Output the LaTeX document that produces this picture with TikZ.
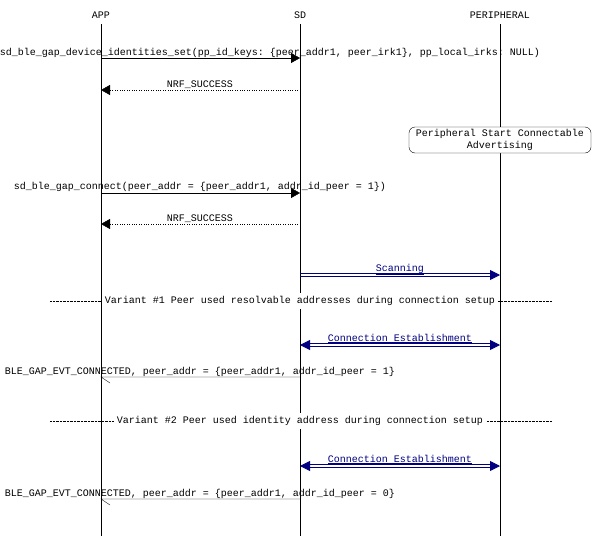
\documentclass[tikz,border=0pt]{standalone}
\usepackage{fontspec}
\setmonofont{Liberation Mono}
\usetikzlibrary{arrows.meta}
\definecolor{navyc}{RGB}{0,0,128}
\begin{document}
\begin{tikzpicture}[x=1pt,y=-1pt,font=\ttfamily\fontsize{10}{12}\selectfont,
  lbl/.style={inner sep=0pt,anchor=base},
  msg/.style={-{Triangle[length=9pt,width=10pt]}},
  ret/.style={dotted,-{Triangle[length=9pt,width=10pt]}},
  dl/.style={navyc,line width=0.8pt},
  dtip/.style={navyc,line width=0.8pt,-{Triangle[length=10pt,width=10pt]}},
  divl/.style={densely dotted}]
\useasboundingbox (0,0) rectangle (600,536);
\fill[white] (0,0) rectangle (600,536);
\node[lbl] (happ) at (101,18) {APP};
\node[lbl] (hsd) at (300,18) {SD};
\node[lbl] (hper) at (500,18) {PERIPHERAL};
\coordinate (eapp) at (101,536);
\coordinate (esd) at (300,536);
\coordinate (eper) at (500,536);
\draw (101,24) -- (eapp);
\draw (300,24) -- (esd);
\draw (500,24) -- (eper);
% 1
\coordinate (a1) at (101,58); \coordinate (s1) at (300,58);
\draw[msg] (a1) -- (s1);
\node[lbl] (l1) at (270,55) {sd\_ble\_gap\_device\_identities\_set(pp\_id\_keys: \{peer\_addr1, peer\_irk1\}, pp\_local\_irks: NULL)};
\coordinate (a2) at (101,90); \coordinate (s2) at (300,90);
\draw[ret] (s2) -- (a2);
\node[lbl] (l2) at (200,87) {NRF\_SUCCESS};
\node[draw,rounded corners=6pt,align=center,inner sep=1pt,minimum width=182pt,minimum height=26pt,fill=white] (box) at (500,140) {Peripheral Start Connectable\\Advertising};
\coordinate (a3) at (101,193); \coordinate (s3) at (300,193);
\draw[msg] (a3) -- (s3);
\node[lbl] (l3) at (200,189) {sd\_ble\_gap\_connect(peer\_addr = \{peer\_addr1, addr\_id\_peer = 1\})};
\coordinate (a4) at (101,224); \coordinate (s4) at (300,224);
\draw[ret] (s4) -- (a4);
\node[lbl] (l4) at (200,221) {NRF\_SUCCESS};
\coordinate (s5) at (300,275); \coordinate (p5) at (500,275);
\draw[dl] ([yshift=-1.5pt]s5) -- ([yshift=-1.5pt,xshift=-8pt]p5);
\draw[dl] ([yshift=1.5pt]s5) -- ([yshift=1.5pt,xshift=-8pt]p5);
\draw[dtip] ([xshift=-9pt]p5) -- (p5);
\node[lbl,navyc] (l5) at (400,271) {\underline{Scanning}};
% divider 1
\coordinate (d1a) at (50,301); \coordinate (d1b) at (552,301);
\draw[divl] (d1a) -- (d1b);
\node[fill=white,inner sep=3pt] (t1) at (300,301) {Variant \#1 Peer used resolvable addresses during connection setup};
\coordinate (s6) at (300,345); \coordinate (p6) at (500,345);
\draw[dl] ([yshift=-1.5pt,xshift=8pt]s6) -- ([yshift=-1.5pt,xshift=-8pt]p6);
\draw[dl] ([yshift=1.5pt,xshift=8pt]s6) -- ([yshift=1.5pt,xshift=-8pt]p6);
\draw[dtip] ([xshift=-9pt]p6) -- (p6);
\draw[dtip] ([xshift=9pt]s6) -- (s6);
\node[lbl,navyc] (l6) at (400,341) {\underline{Connection Establishment}};
\coordinate (a7) at (101,377); \coordinate (s7) at (300,377);
\draw (s7) -- (a7) -- ++(9,6);
\node[lbl] (l7) at (200,374) {BLE\_GAP\_EVT\_CONNECTED, peer\_addr = \{peer\_addr1, addr\_id\_peer = 1\}};
\coordinate (d2a) at (50,421); \coordinate (d2b) at (552,421);
\draw[divl] (d2a) -- (d2b);
\node[fill=white,inner sep=3pt] (t2) at (300,421) {Variant \#2 Peer used identity address during connection setup};
\coordinate (s8) at (300,466); \coordinate (p8) at (500,466);
\draw[dl] ([yshift=-1.5pt,xshift=8pt]s8) -- ([yshift=-1.5pt,xshift=-8pt]p8);
\draw[dl] ([yshift=1.5pt,xshift=8pt]s8) -- ([yshift=1.5pt,xshift=-8pt]p8);
\draw[dtip] ([xshift=-9pt]p8) -- (p8);
\draw[dtip] ([xshift=9pt]s8) -- (s8);
\node[lbl,navyc] (l8) at (400,462) {\underline{Connection Establishment}};
\coordinate (a9) at (101,499); \coordinate (s9) at (300,499);
\draw (s9) -- (a9) -- ++(9,6);
\node[lbl] (l9) at (200,496) {BLE\_GAP\_EVT\_CONNECTED, peer\_addr = \{peer\_addr1, addr\_id\_peer = 0\}};
\end{tikzpicture}
\end{document}
